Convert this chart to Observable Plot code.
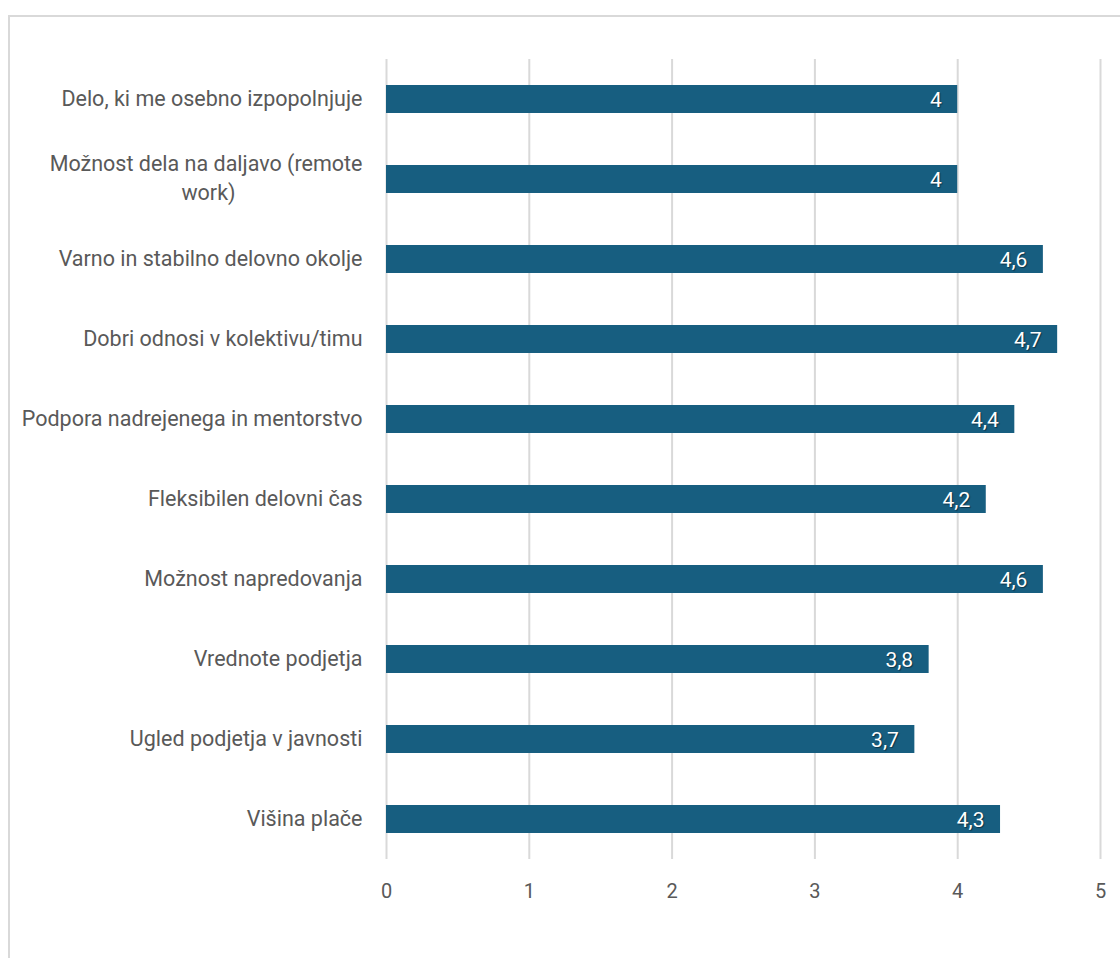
<!DOCTYPE html>
<html>
<head>
<meta charset="utf-8">
<script src="https://cdn.jsdelivr.net/npm/d3@7"></script>
<script src="https://cdn.jsdelivr.net/npm/@observablehq/plot@0.6"></script>
<style>
  html, body { margin: 0; padding: 0; background: #fff; }
  #wrap { position: relative; width: 1120px; height: 958px; overflow: hidden; }
  #frame { position: absolute; left: 8px; top: 15px; width: 1200px; height: 1000px; border: 2px solid #d9d9d9; box-sizing: border-box; }
  #chart { position: absolute; left: 0; top: 0; }
  .vlab { text-shadow: 1px 1px 1px rgba(0,0,0,0.45); }
</style>
</head>
<body>
<div id="wrap"><div id="frame"></div><div id="chart"></div></div>
<script>
const categories = [
  "Delo, ki me osebno izpopolnjuje",
  "Možnost dela na daljavo (remote work)",
  "Varno in stabilno delovno okolje",
  "Dobri odnosi v kolektivu/timu",
  "Podpora nadrejenega in mentorstvo",
  "Fleksibilen delovni čas",
  "Možnost napredovanja",
  "Vrednote podjetja",
  "Ugled podjetja v javnosti",
  "Višina plače"
];
const values = [4, 4, 4.6, 4.7, 4.4, 4.2, 4.6, 3.8, 3.7, 4.3];
const xTicks = [0, 1, 2, 3, 4, 5];
const wrapped = { "Možnost dela na daljavo (remote work)": ["Možnost dela na daljavo (remote", "work)"] };

const data = categories.map((c, i) => ({ category: c, value: values[i] }));
const single = categories.filter(c => !wrapped[c]);
const multi = categories.filter(c => wrapped[c]);

const font = "Roboto, sans-serif";
const fmt = v => String(v).replace(".", ",");

const plot = Plot.plot({
  width: 1120,
  height: 958,
  marginLeft: 386,
  marginRight: 20,
  marginTop: 59,
  marginBottom: 99,
  style: { fontFamily: font, background: "transparent" },
  x: { domain: [0, 5], axis: null },
  y: { domain: categories, paddingInner: 0.65, paddingOuter: 0.325, round: false, axis: null },
  marks: [
    Plot.ruleX(xTicks, { stroke: "#d9d9d9", strokeWidth: 2 }),
    Plot.barX(data, { x: "value", y: "category", fill: "#175e80" }),
    Plot.text(data, {
      x: "value", y: "category", text: d => fmt(d.value),
      textAnchor: "end", dx: -16, dy: 1, fill: "white", fontSize: 21, className: "vlab"
    }),
    Plot.text(single, {
      x: 0, y: d => d, text: d => d, textAnchor: "end", dx: -24,
      fill: "#595959", fontSize: 21.5
    }),
    Plot.text(multi, {
      x: 0, y: d => d, text: d => wrapped[d][0], textAnchor: "end", dx: -24, dy: -15,
      fill: "#595959", fontSize: 21.5
    }),
    Plot.text(multi, {
      x: 0, y: d => d, text: d => wrapped[d][1], textAnchor: "middle", dx: -178, dy: 14,
      fill: "#595959", fontSize: 21.5
    }),
    Plot.axisX(xTicks, {
      tickSize: 0, tickPadding: 24, fontSize: 20, color: "#595959", label: null,
      tickFormat: d => String(d)
    })
  ]
});
document.getElementById("chart").appendChild(plot);
</script>
</body>
</html>
